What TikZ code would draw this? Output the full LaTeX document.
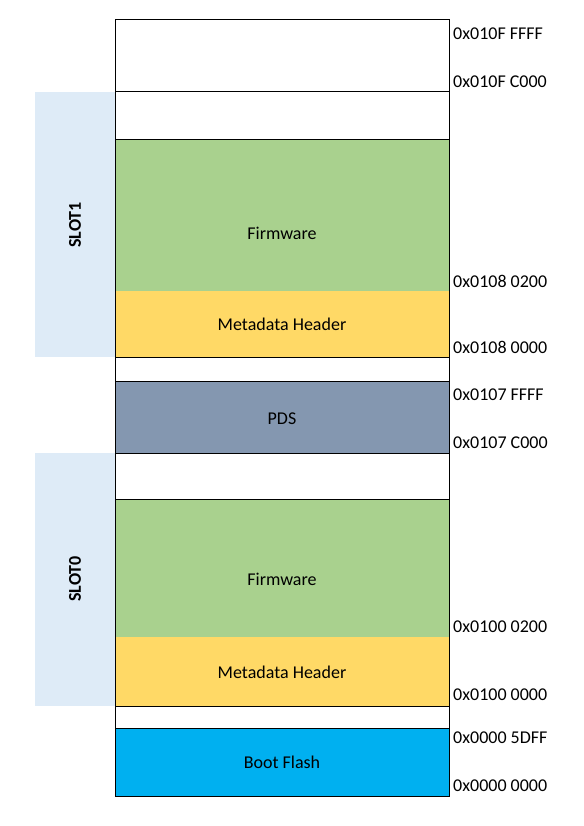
\documentclass[tikz,border=0pt]{standalone}
\usepackage{fontspec}
\setmainfont{Carlito}
\definecolor{slotbg}{HTML}{DEEBF7}
\definecolor{fwgreen}{HTML}{A9D18E}
\definecolor{mdyellow}{HTML}{FFD966}
\definecolor{pdsgray}{HTML}{8497B0}
\definecolor{bootblue}{HTML}{00B0F0}
\tikzset{
  region/.style={draw=black, line width=1pt},
  lbl/.style={font=\fontsize{18}{21}\selectfont, inner sep=0pt, text=black},
  addr/.style={lbl, anchor=west},
  slotlbl/.style={lbl, font=\fontsize{18}{21}\selectfont\bfseries, rotate=90}
}
\begin{document}
\begin{tikzpicture}[x=1pt,y=-1pt]
\useasboundingbox (0,0) rectangle (583,826);
% slot bands
\fill[slotbg] (35,92) rectangle (115,357);
\fill[slotbg] (35,453) rectangle (115,706);
% slot 1 contents
\fill[fwgreen] (115,140) rectangle (449,291);
\fill[mdyellow] (115,291) rectangle (449,357);
% slot 0 contents
\fill[fwgreen] (115,499) rectangle (449,637);
\fill[mdyellow] (115,637) rectangle (449,706);
% PDS and boot flash
\fill[pdsgray] (115,381) rectangle (449,453);
\fill[bootblue] (115,728) rectangle (449,796);
% outlines
\draw[region] (115,20) rectangle (449,92);
\draw[region] (115,92) rectangle (449,140);
\draw[region] (115,140) rectangle (449,357);
\draw[region] (115,357) rectangle (449,381);
\draw[region] (115,381) rectangle (449,453);
\draw[region] (115,453) rectangle (449,499);
\draw[region] (115,499) rectangle (449,706);
\draw[region] (115,706) rectangle (449,728);
\draw[region] (115,728) rectangle (449,796);
% region labels
\node[lbl] (fw1) at (282,233) {Firmware};
\node[lbl] (md1) at (282,324) {Metadata Header};
\node[lbl] (pds) at (282,419) {PDS};
\node[lbl] (fw0) at (282,579) {Firmware};
\node[lbl] (md0) at (282,672) {Metadata Header};
\node[lbl] (boot) at (282,762) {Boot Flash};
\node[slotlbl] (slot1) at (75,225) {SLOT1};
\node[slotlbl] (slot0) at (75,579) {SLOT0};
% addresses
\node[addr] (a1) at (453,34) {0x010F FFFF};
\node[addr] (a2) at (453,82) {0x010F C000};
\node[addr] (a3) at (453,281) {0x0108 0200};
\node[addr] (a4) at (453,347) {0x0108 0000};
\node[addr] (a5) at (453,395) {0x0107 FFFF};
\node[addr] (a6) at (453,443) {0x0107 C000};
\node[addr] (a7) at (453,627) {0x0100 0200};
\node[addr] (a8) at (453,695) {0x0100 0000};
\node[addr] (a9) at (453,738) {0x0000 5DFF};
\node[addr] (a10) at (453,786) {0x0000 0000};
\end{tikzpicture}
\end{document}
